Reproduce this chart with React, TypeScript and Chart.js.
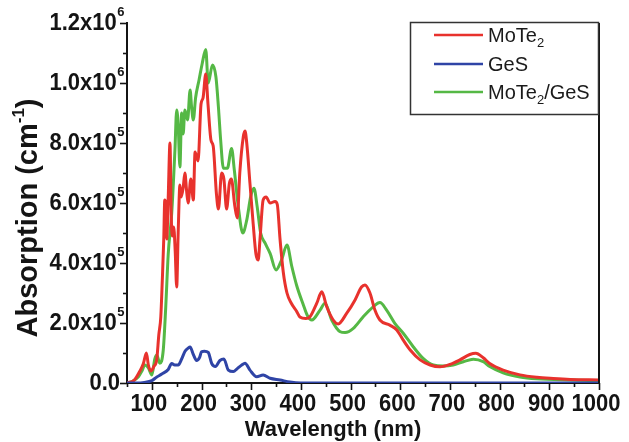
import React, { useEffect, useRef } from "react";
import { Chart, registerables } from "chart.js";

Chart.register(...registerables);

// ---- data (wavelength in nm, absorption in cm^-1) ----
const MOTE2_NM = [50, 65, 76, 83, 89, 93, 98, 104, 110, 114, 118, 121, 124, 126, 128, 130, 133, 136.5, 139, 141, 144, 147, 150, 153, 156.5, 159, 163, 166.5, 170, 173, 178.5, 183.5, 187, 193, 199, 203, 208.5, 213, 219, 223.5, 230, 234, 240.5, 245, 250.5, 256, 260, 267, 272, 277, 284, 287.5, 291, 297.5, 304, 309.5, 314, 317.5, 324, 330, 338, 348, 352.5, 358, 364.5, 372, 381, 391, 398, 410, 418, 432, 442, 452, 465, 475, 492, 509, 522, 529, 539, 549, 559, 579, 593, 606, 620, 640, 660, 680, 700, 720, 740, 752, 767, 780, 807, 841, 875, 908, 942, 1000];
const MOTE2_ABS = [0, 0.1e5, 0.4e5, 0.65e5, 1.0e5, 0.6e5, 0.4e5, 0.55e5, 0.8e5, 1.6e5, 2.2e5, 3.4e5, 4.8e5, 6.1e5, 5.9e5, 4.8e5, 6.2e5, 8.0e5, 5.6e5, 4.9e5, 5.2e5, 4.4e5, 3.2e5, 5.0e5, 6.6e5, 6.2e5, 6.5e5, 7.0e5, 6.4e5, 6.0e5, 6.8e5, 6.1e5, 7.7e5, 7.4e5, 9.3e5, 9.5e5, 10.3e5, 9.3e5, 8.1e5, 7.9e5, 6.3e5, 5.8e5, 7.0e5, 6.8e5, 5.8e5, 6.65e5, 6.8e5, 5.9e5, 5.5e5, 7.0e5, 8.2e5, 8.4e5, 8.0e5, 6.65e5, 5.3e5, 4.3e5, 4.1e5, 4.75e5, 6.1e5, 6.2e5, 6.0e5, 6.05e5, 5.95e5, 4.8e5, 3.7e5, 3.0e5, 2.65e5, 2.4e5, 2.2e5, 2.15e5, 2.2e5, 2.66e5, 3.04e5, 2.54e5, 2.1e5, 1.97e5, 2.32e5, 2.77e5, 3.2e5, 3.27e5, 3.0e5, 2.43e5, 2.1e5, 1.93e5, 1.77e5, 1.43e5, 1.1e5, 0.77e5, 0.6e5, 0.54e5, 0.62e5, 0.77e5, 0.95e5, 0.99e5, 0.84e5, 0.65e5, 0.43e5, 0.27e5, 0.19e5, 0.15e5, 0.12e5, 0.1e5];

const GES_NM = [50, 70, 85, 100, 110, 120, 133, 140, 146, 153, 160, 166.5, 173, 177, 183.5, 190, 196, 200, 206, 213.5, 220.5, 228, 237, 245, 254, 264, 272, 281, 287.5, 297.5, 311, 324, 338, 358, 378, 400, 1000];
const GES_ABS = [0, 0, 0.02e5, 0.08e5, 0.2e5, 0.3e5, 0.45e5, 0.65e5, 0.6e5, 0.6e5, 0.8e5, 1.05e5, 1.16e5, 1.2e5, 0.95e5, 0.75e5, 0.85e5, 1.04e5, 1.06e5, 1.02e5, 0.65e5, 0.55e5, 0.75e5, 0.8e5, 0.43e5, 0.38e5, 0.48e5, 0.6e5, 0.66e5, 0.43e5, 0.21e5, 0.27e5, 0.16e5, 0.1e5, 0.03e5, 0, 0];

const HETERO_NM = [50, 60, 73, 80, 86, 93, 100, 106, 110, 116, 123, 128, 133, 140, 146.5, 150, 153, 156.5, 160, 163, 166.5, 172, 177, 180, 183.5, 188, 195, 201.5, 208.5, 213.5, 222, 229, 234, 238.5, 244, 252, 260.5, 266, 274, 283, 291, 299, 305.5, 312, 319, 328, 338, 350, 361, 372, 381.5, 391.5, 405, 413, 422, 438.5, 448.5, 462, 479, 489, 505.5, 525.5, 545.5, 559, 572.5, 589, 606, 626, 646, 666.5, 686.5, 706.5, 727, 747, 767, 780, 807, 841, 875, 942, 1000];
const HETERO_ABS = [0, 0.05e5, 0.21e5, 0.4e5, 0.6e5, 0.5e5, 0.27e5, 0.8e5, 0.93e5, 0.66e5, 1.1e5, 2.54e5, 4.3e5, 5.66e5, 7.77e5, 9.1e5, 8.6e5, 7.2e5, 9.0e5, 8.3e5, 9.1e5, 8.77e5, 9.77e5, 9.2e5, 8.77e5, 9.5e5, 10.1e5, 10.66e5, 11.12e5, 10.0e5, 10.6e5, 10.2e5, 9.2e5, 8.1e5, 7.16e5, 7.16e5, 7.82e5, 7.1e5, 5.88e5, 5.0e5, 5.43e5, 6.21e5, 6.49e5, 5.88e5, 5.0e5, 4.66e5, 4.32e5, 3.77e5, 4.1e5, 4.6e5, 3.9e5, 3.25e5, 2.6e5, 2.25e5, 2.1e5, 2.43e5, 2.66e5, 2.1e5, 1.71e5, 1.68e5, 1.82e5, 2.21e5, 2.54e5, 2.68e5, 2.43e5, 1.99e5, 1.66e5, 1.21e5, 0.82e5, 0.6e5, 0.57e5, 0.6e5, 0.71e5, 0.79e5, 0.71e5, 0.55e5, 0.34e5, 0.2e5, 0.14e5, 0.1e5, 0.08e5];

const X_TICKS = [100, 200, 300, 400, 500, 600, 700, 800, 900, 1000];
const X_TICK_LABELS = ["100", "200", "300", "400", "500", "600", "700", "800", "900", "1000"];
const Y_TICKS = [0, 2e5, 4e5, 6e5, 8e5, 1e6, 1.2e6];
const Y_TICK_MANTISSA = ["0.0", "2.0x10", "4.0x10", "6.0x10", "8.0x10", "1.0x10", "1.2x10"];
const Y_TICK_EXPONENT = ["", "5", "5", "5", "5", "6", "6"];

const SERIES_NAMES = ["MoTe", "GeS", "MoTe"];
const SERIES_SUBS = ["2", "", "2"];
const SERIES_TAILS = ["", "", "/GeS"];
const COLORS = ["#e8322d", "#2f44a6", "#55b845"];

const FONT = "'Liberation Sans', Arial, sans-serif";
const INK = "#141414";

function drawText(ctx: CanvasRenderingContext2D, text: string, x: number, y: number, font: string, align: CanvasTextAlign, baseline: CanvasTextBaseline, sy = 1) {
  ctx.save();
  ctx.font = font;
  ctx.textAlign = align;
  ctx.textBaseline = baseline;
  ctx.translate(x, y);
  ctx.scale(1, sy);
  ctx.fillText(text, 0, 0);
  ctx.restore();
}

const decorPlugin = {
  id: "decor",
  afterDraw(chart: any) {
    const ctx: CanvasRenderingContext2D = chart.ctx;
    const xs = chart.scales.x;
    const ys = chart.scales.y;
    const ca = chart.chartArea;
    ctx.save();
    ctx.fillStyle = INK;
    ctx.strokeStyle = INK;

    // right border
    ctx.lineWidth = 2;
    ctx.beginPath();
    ctx.moveTo(ca.right, ca.top);
    ctx.lineTo(ca.right, ca.bottom + 1);
    ctx.stroke();

    // x ticks (major + minor)
    ctx.lineWidth = 1.6;
    for (let v = xs.min; v <= xs.max + 0.01; v += 50) {
      const px = Math.round(xs.getPixelForValue(v)) + 0.5;
      const major = X_TICKS.includes(v);
      ctx.beginPath();
      ctx.moveTo(px, ca.bottom);
      ctx.lineTo(px, ca.bottom + (major ? 7 : 4));
      ctx.stroke();
    }
    // y ticks
    for (let v = ys.min; v <= ys.max + 1; v += 1e5) {
      const py = Math.round(ys.getPixelForValue(v)) + 0.5;
      const major = Y_TICKS.some((t) => Math.abs(t - v) < 1);
      ctx.beginPath();
      ctx.moveTo(ca.left, py);
      ctx.lineTo(ca.left - (major ? 7 : 4), py);
      ctx.stroke();
    }

    // x tick labels
    const tickFont = `bold 22px ${FONT}`;
    X_TICKS.forEach((v, i) => {
      drawText(ctx, X_TICK_LABELS[i], xs.getPixelForValue(v) - 3, 405, tickFont, "center", "middle", 1.05);
    });

    // y tick labels with superscript exponent
    const supFont = `bold 13px ${FONT}`;
    Y_TICKS.forEach((v, i) => {
      const py = ys.getPixelForValue(v);
      const exp = Y_TICK_EXPONENT[i];
      ctx.font = supFont;
      const sw = exp ? ctx.measureText(exp).width : 0;
      const right = exp ? 124 - sw : 120;
      drawText(ctx, Y_TICK_MANTISSA[i], right, py + 1, tickFont, "right", "middle", 1.05);
      if (exp) drawText(ctx, exp, right + 0.5, py - 4, supFont, "left", "bottom", 1.05);
    });

    // x axis title
    drawText(ctx, "Wavelength (nm)", 333, 430, `bold 22px ${FONT}`, "center", "middle", 1);

    // y axis title (rotated)
    ctx.save();
    ctx.translate(29, 218);
    ctx.rotate(-Math.PI / 2);
    const tFont = `bold 29px ${FONT}`;
    const tSup = `bold 17px ${FONT}`;
    ctx.font = tFont;
    const p1 = "Absorption (cm";
    const p3 = ")";
    const w1 = ctx.measureText(p1).width;
    const w3 = ctx.measureText(p3).width;
    ctx.font = tSup;
    const w2 = ctx.measureText("-1").width;
    const total = w1 + w2 + w3;
    let cx = -total / 2;
    ctx.textBaseline = "middle";
    ctx.textAlign = "left";
    ctx.font = tFont;
    ctx.fillText(p1, cx, 0);
    cx += w1;
    ctx.font = tSup;
    ctx.fillText("-1", cx, -10);
    cx += w2;
    ctx.font = tFont;
    ctx.fillText(p3, cx, 0);
    ctx.restore();

    // legend box
    ctx.lineWidth = 1.5;
    ctx.strokeStyle = "#333";
    ctx.strokeRect(410.5, 22.5, 188, 92);

    // legend entries
    const rowsY = [35, 64, 92];
    const legFont = `20px ${FONT}`;
    const legSub = `13px ${FONT}`;
    rowsY.forEach((ry, i) => {
      ctx.strokeStyle = COLORS[i];
      ctx.lineWidth = 2.5;
      ctx.beginPath();
      ctx.moveTo(434, ry);
      ctx.lineTo(483, ry);
      ctx.stroke();
      ctx.fillStyle = "#1a1a1a";
      ctx.textAlign = "left";
      ctx.textBaseline = "middle";
      let tx = 488;
      ctx.font = legFont;
      ctx.fillText(SERIES_NAMES[i], tx, ry + 1);
      tx += ctx.measureText(SERIES_NAMES[i]).width;
      if (SERIES_SUBS[i]) {
        ctx.font = legSub;
        ctx.fillText(SERIES_SUBS[i], tx, ry + 8);
        tx += ctx.measureText(SERIES_SUBS[i]).width;
      }
      if (SERIES_TAILS[i]) {
        ctx.font = legFont;
        ctx.fillText(SERIES_TAILS[i], tx, ry + 1);
      }
    });
    ctx.restore();
  },
};

function toPoints(xs: number[], ys: number[]) {
  return xs.map((x, i) => ({ x, y: ys[i] }));
}

export default function App() {
  const ref = useRef<HTMLCanvasElement | null>(null);
  useEffect(() => {
    document.body.style.margin = "0";
    const canvas = ref.current;
    if (!canvas) return;
    const mk = (label: string, nm: number[], vals: number[], color: string) => ({
      label,
      data: toPoints(nm, vals),
      borderColor: color,
      backgroundColor: color,
      borderWidth: 3,
      pointRadius: 0,
      fill: false,
      cubicInterpolationMode: "monotone" as const,
    });
    const chart = new Chart(canvas, {
      type: "line",
      data: {
        datasets: [
          mk("GeS", GES_NM, GES_ABS, COLORS[1]),
          mk("MoTe2", MOTE2_NM, MOTE2_ABS, COLORS[0]),
          mk("MoTe2/GeS", HETERO_NM, HETERO_ABS, COLORS[2]),
        ],
      },
      options: {
        animation: false,
        responsive: false,
        maintainAspectRatio: false,
        devicePixelRatio: 1,
        layout: { padding: { left: 0, right: 30, top: 23, bottom: 0 } },
        plugins: { legend: { display: false }, tooltip: { enabled: false }, title: { display: false } },
        scales: {
          x: {
            type: "linear",
            min: 50,
            max: 1000,
            grid: { display: false },
            border: { display: true, color: INK, width: 2 },
            ticks: { display: false, stepSize: 50 },
            afterFit: (s: any) => { s.height = 59; },
          },
          y: {
            type: "linear",
            min: 0,
            max: 1.2e6,
            grid: { display: false },
            border: { display: true, color: INK, width: 2 },
            ticks: { display: false, stepSize: 1e5 },
            afterFit: (s: any) => { s.width = 127; },
          },
        },
      },
      plugins: [decorPlugin],
    });
    return () => chart.destroy();
  }, []);
  return (
    <div style={{ width: 629, height: 442, background: "#fff" }}>
      <canvas ref={ref} width={629} height={442} style={{ display: "block" }} />
    </div>
  );
}
